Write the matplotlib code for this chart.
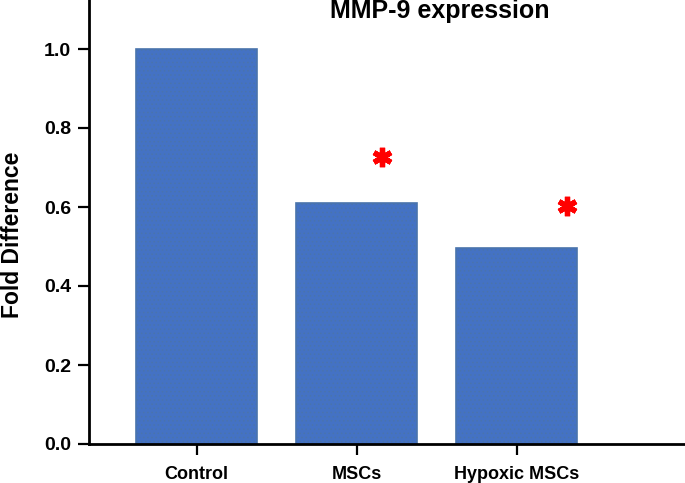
import matplotlib
matplotlib.use("Agg")
import matplotlib.pyplot as plt

categories = ["Control", "MSCs", "Hypoxic MSCs"]
values = [1.0, 0.61, 0.495]
significant = [False, True, True]
y_ticks = [0.0, 0.2, 0.4, 0.6, 0.8, 1.0]
y_tick_labels = ["0.0", "0.2", "0.4", "0.6", "0.8", "1.0"]

plt.rcParams['font.family'] = ['Liberation Sans', 'DejaVu Sans']
plt.rcParams['hatch.linewidth'] = 0.6
plt.rcParams['hatch.color'] = '#36599a'

W, H = 685, 483
fig = plt.figure(figsize=(W / 100, H / 100), dpi=100)
ax = fig.add_axes([89 / W, (H - 444) / H, 1 - 89 / W, 444 / H])

x = list(range(len(categories)))
ax.bar(x, values, width=0.756, color='#4472C4', edgecolor='#4a74ac',
       linewidth=1.2, hatch='....', zorder=2)

# significance asterisks
star_dx = [0.0, 0.16, 0.31]
star_dy = [0.0, 0.117, 0.108]
for i, (v, s) in enumerate(zip(values, significant)):
    if s:
        ax.plot(i + star_dx[i], v + star_dy[i], marker=(6, 2, 0), markersize=14,
                markeredgewidth=3.8, color='#ff0000', linestyle='none', zorder=3)

ax.set_xlim(-0.673, 3.05)
ax.set_ylim(0, 444 / 395)
ax.set_xticks(x)
ax.set_xticklabels(categories, fontsize=13, fontweight='bold')
ax.set_yticks(y_ticks)
ax.set_yticklabels(y_tick_labels, fontsize=14, fontweight='bold')

for side in ['top', 'right']:
    ax.spines[side].set_visible(False)
for side in ['left', 'bottom']:
    ax.spines[side].set_linewidth(2)
    ax.spines[side].set_color('black')
ax.tick_params(axis='both', direction='out', length=8, width=1.6)
ax.tick_params(axis='y', pad=5)
ax.tick_params(axis='x', pad=8)

fig.text(440 / W, 1 - 18 / H, "MMP-9 expression", fontsize=18,
         fontweight='bold', ha='center', va='baseline')
fig.text(19 / W, 1 - 234.5 / H, "Fold Difference", fontsize=16.5,
         fontweight='bold', rotation=90, rotation_mode='anchor',
         ha='center', va='baseline')

fig.savefig("out.png", dpi=100)
